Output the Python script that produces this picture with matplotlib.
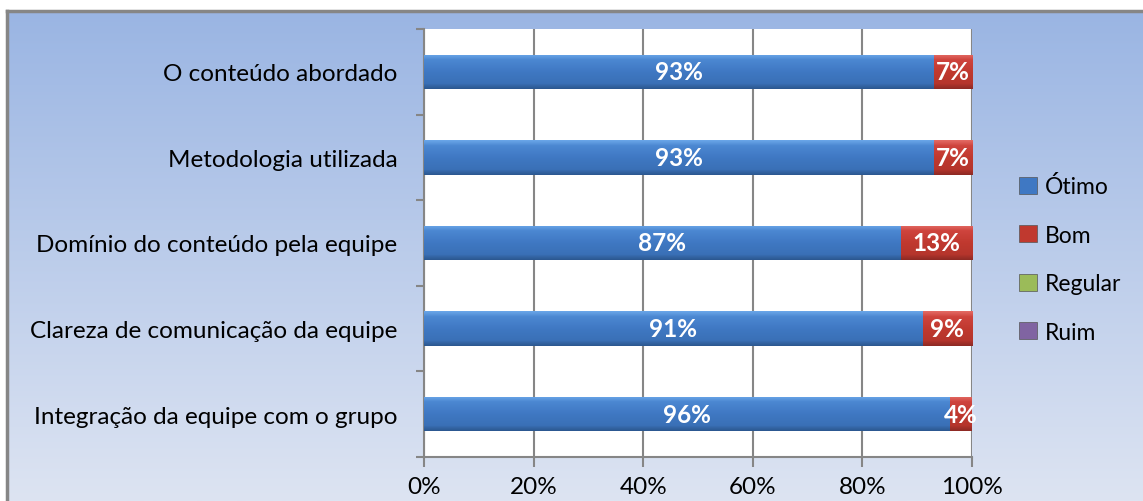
import numpy as np
import matplotlib
matplotlib.use('Agg')
import matplotlib.pyplot as plt
from matplotlib.colors import LinearSegmentedColormap
from matplotlib.patches import Patch

plt.rcParams['font.family'] = ['Lato', 'DejaVu Sans']

categories = ['O conteúdo abordado', 'Metodologia utilizada',
              'Domínio do conteúdo pela equipe',
              'Clareza de comunicação da equipe',
              'Integração da equipe com o grupo']
otimo = [93, 93, 87, 91, 96]
bom = [7, 7, 13, 9, 4]
regular = [0, 0, 0, 0, 0]
ruim = [0, 0, 0, 0, 0]
series_names = ['Ótimo', 'Bom', 'Regular', 'Ruim']
x_ticks = [0, 20, 40, 60, 80, 100]

colors = {'Ótimo': '#3f78c3', 'Bom': '#c0392f', 'Regular': '#9bbb59', 'Ruim': '#8064a2'}
grads = {
    'Ótimo': ['#6aa6e8', '#4c88d2', '#3f78c3', '#3a70b6', '#2c5890'],
    'Bom': ['#e36a64', '#cf453e', '#c0392f', '#b5352c', '#8e2a24'],
}
fs = 17.5

fig = plt.figure(figsize=(11.43, 5.02), dpi=100)
fig.patch.set_facecolor('white')

# gradient chart background with a grey frame
bg = fig.add_axes([7 / 1143, 0, 1 - 7 / 1143, 1 - 12 / 502], zorder=0)
bgcmap = LinearSegmentedColormap.from_list('bg', ['#9ab5e3', '#dde4f2'])
bg.imshow(np.linspace(0, 1, 256).reshape(-1, 1), cmap=bgcmap, aspect='auto',
          extent=[0, 1, 0, 1])
bg.set_xlim(0, 1)
bg.set_ylim(0, 1)
bg.set_xticks([])
bg.set_yticks([])
for s in ['right', 'bottom']:
    bg.spines[s].set_visible(False)
for s in ['left', 'top']:
    bg.spines[s].set_color('#868686')
    bg.spines[s].set_linewidth(2.5)

ax = fig.add_axes([424 / 1143, 1 - 458 / 502, 548 / 1143, 428 / 502], zorder=1)
ax.set_facecolor('white')

y = np.arange(len(categories))
h = 0.40
left = np.zeros(len(categories))
containers = []
for name, vals in zip(series_names, [otimo, bom, regular, ruim]):
    vals = np.array(vals, dtype=float)
    bc = ax.barh(y, vals, height=h, left=left, color=colors[name],
                 edgecolor='none', zorder=3)
    containers.append((name, bc, vals, left.copy()))
    left = left + vals

# fake the glossy bevel with a vertical gradient clipped to each bar
for name, bc, vals, lft in containers:
    if name not in grads:
        continue
    cmap = LinearSegmentedColormap.from_list(name, grads[name])
    g = np.concatenate([np.linspace(0, 0.2, 8), np.linspace(0.25, 0.75, 40),
                        np.linspace(0.8, 1, 8)]).reshape(-1, 1)
    for p in bc.patches:
        if p.get_width() <= 0:
            continue
        x0, y0 = p.get_x(), p.get_y()
        im = ax.imshow(g, cmap=cmap, aspect='auto', zorder=4,
                       extent=[x0, x0 + p.get_width(), y0 + p.get_height(), y0],
                       interpolation='bilinear')
        im.set_clip_path(p)

# data labels
for name, bc, vals, lft in containers:
    for yi, v, l in zip(y, vals, lft):
        if v > 0:
            ax.text(l + v / 2, yi, f'{int(v)}%', ha='center', va='center',
                    color='white', fontsize=fs, fontweight='bold', zorder=6)

ax.set_xlim(0, 100)
ax.set_ylim(len(categories) - 0.5, -0.5)
ax.set_xticks(x_ticks)
ax.set_xticklabels([f'{t}%' for t in x_ticks], fontsize=fs)
ax.set_yticks(y)
ax.set_yticklabels(categories, fontsize=fs)
ax.set_yticks(np.arange(-0.5, len(categories)), minor=True)
ax.tick_params(axis='y', which='major', length=0, pad=19)
ax.tick_params(axis='y', which='minor', length=6, width=1.5, color='#868686')
ax.tick_params(axis='x', length=7, width=1.5, color='#868686', pad=7)
ax.xaxis.grid(True, color='#868686', linewidth=1.5, zorder=0)
ax.set_axisbelow(True)
ax.spines['top'].set_visible(False)
ax.spines['right'].set_visible(False)
for s in ['left', 'bottom']:
    ax.spines[s].set_color('#868686')
    ax.spines[s].set_linewidth(1.5)

handles = [Patch(facecolor=colors[n], edgecolor='#555555', linewidth=0.5, label=n)
           for n in series_names]
fig.legend(handles=handles, loc='center left', bbox_to_anchor=(1008 / 1143, 1 - 260 / 502),
           frameon=False, fontsize=16.5, handlelength=0.75, handleheight=0.75,
           handletextpad=0.35, labelspacing=1.2, borderpad=0)

fig.savefig('out.png', dpi=100)
